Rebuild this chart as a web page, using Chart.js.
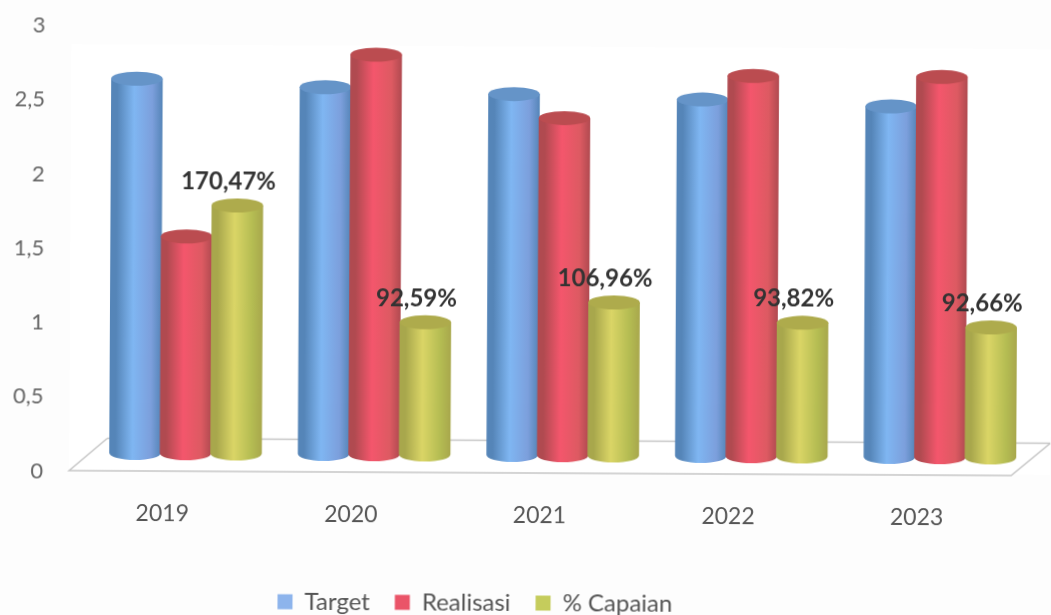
<!DOCTYPE html>
<html>
<head>
<meta charset="utf-8">
<title>Target dan Realisasi</title>
<script src="https://cdn.jsdelivr.net/npm/chart.js@4/dist/chart.umd.js"></script>
<style>
html,body{margin:0;padding:0;background:#fdfdfd;overflow:hidden;}
/* the source is a slightly crooked scan */
#chart{display:block;transform:rotate(0.3deg);filter:blur(0.4px);}
</style>
</head>
<body>
<canvas id="chart" width="1051" height="615"></canvas>
<script>
const years = ["2019","2020","2021","2022","2023"];
const target = [2.52,2.47,2.43,2.40,2.36];
const realisasi = [1.46,2.69,2.27,2.56,2.56];
const capaian = [1.67,0.89,1.03,0.90,0.875];
const capaianLabels = ["170,47%","92,59%","106,96%","93,82%","92,66%"];
const yTicks = [0,0.5,1,1.5,2,2.5,3];

/* body, edge and lid colours of each cylinder */
const cylinderColors = [
  {dark:"#5585b8",light:"#7fb6f2",right:"#7c9fdc",lid:"#6594c8"},
  {dark:"#b04a50",light:"#f4566c",right:"#dd5a62",lid:"#bb4c50"},
  {dark:"#a8a74c",light:"#dad566",right:"#b4bc52",lid:"#aeab4c"}
];

const sceneryPlugin = {
  id:"scenery",
  beforeDraw(chart){
    const {ctx,chartArea:a} = chart;
    ctx.save();
    ctx.fillStyle = "#ffffff";
    ctx.fillRect(a.left-22,a.top+37,a.width+60,a.height-20);
    /* floor of the 3d box */
    ctx.strokeStyle = "#c6c6c6";
    ctx.lineWidth = 1.5;
    ctx.beginPath();
    ctx.moveTo(a.left+16,a.bottom-14.5);
    ctx.lineTo(a.left-22,a.bottom+18);
    ctx.lineTo(a.right-23,a.bottom+18);
    ctx.lineTo(a.right+16,a.bottom-14.5);
    ctx.lineTo(a.left+16,a.bottom-14.5);
    ctx.stroke();
    ctx.restore();
  },
  afterLayout(chart){
    /* legend sits left of centre in the source, close to the bottom edge */
    chart.legend.left -= 41;
    chart.legend.right -= 41;
    chart.legend.top = 566;
  },
  beforeDatasetsDraw(chart){
    const ctx = chart.ctx;
    chart.data.datasets.forEach((ds,d)=>{
      const c = cylinderColors[d];
      chart.getDatasetMeta(d).data.forEach(bar=>{
        const rx = bar.width/2+0.5;
        const ry = 7;
        const l = bar.x-rx;
        const g = ctx.createLinearGradient(l,0,l+rx*2,0);
        g.addColorStop(0,c.dark);
        g.addColorStop(0.12,c.dark);
        g.addColorStop(0.45,c.light);
        g.addColorStop(0.8,c.right);
        g.addColorStop(1,c.dark);
        ctx.fillStyle = g;
        ctx.beginPath();
        ctx.moveTo(l,bar.y);
        ctx.lineTo(l,bar.base);
        ctx.ellipse(bar.x,bar.base,rx,ry,0,Math.PI,0,true);
        ctx.lineTo(l+rx*2,bar.y);
        ctx.closePath();
        ctx.fill();
        ctx.fillStyle = c.lid;
        ctx.beginPath();
        ctx.ellipse(bar.x,bar.y,rx,ry,0,0,Math.PI*2);
        ctx.fill();
      });
    });
    /* value labels sit over the cylinders */
    ctx.save();
    ctx.font = "bold 24px Lato";
    ctx.fillStyle = "#333333";
    ctx.textAlign = "center";
    ctx.textBaseline = "middle";
    chart.getDatasetMeta(2).data.forEach((bar,i)=>{
      ctx.fillText(capaianLabels[i],bar.x-9,bar.y-24);
    });
    ctx.restore();
    return false;
  }
};

new Chart(document.getElementById("chart"),{
  type:"bar",
  data:{
    labels:years,
    datasets:[
      {label:"Target",data:target,backgroundColor:"#8db4ec"},
      {label:"Realisasi",data:realisasi,backgroundColor:"#ea5468"},
      {label:"% Capaian",data:capaian,backgroundColor:"#c5cc5c"}
    ]
  },
  plugins:[sceneryPlugin],
  options:{
    responsive:false,
    animation:false,
    devicePixelRatio:1,
    layout:{padding:{top:9.5,right:16,left:0,bottom:0}},
    datasets:{bar:{categoryPercentage:0.804,barPercentage:1}},
    plugins:{
      tooltip:{enabled:false},
      legend:{
        position:"bottom",
        labels:{
          color:"#555555",
          font:{family:"Lato",size:24},
          boxWidth:15,
          boxHeight:15,
          padding:25
        }
      }
    },
    scales:{
      x:{
        grid:{display:false,drawTicks:false},
        border:{display:false},
        afterFit(scale){scale.height = 101;scale.paddingLeft = 0;scale.paddingRight = 0;},
        ticks:{
          color:"#555555",
          font:{family:"Lato",size:23},
          labelOffset:-23,
          padding:47,
          maxRotation:0
        }
      },
      y:{
        min:0,
        max:3,
        grid:{display:false,drawTicks:false},
        border:{display:false},
        afterFit(scale){scale.width = 92;scale.paddingTop = 0;scale.paddingBottom = 0;},
        afterBuildTicks(scale){scale.ticks = yTicks.map(v=>({value:v}));},
        ticks:{
          color:"#666666",
          font:{family:"Lato",size:22},
          labelOffset:18.5,
          padding:48,
          callback:v=>String(v).replace(".",",")
        }
      }
    }
  }
});
</script>
</body>
</html>
